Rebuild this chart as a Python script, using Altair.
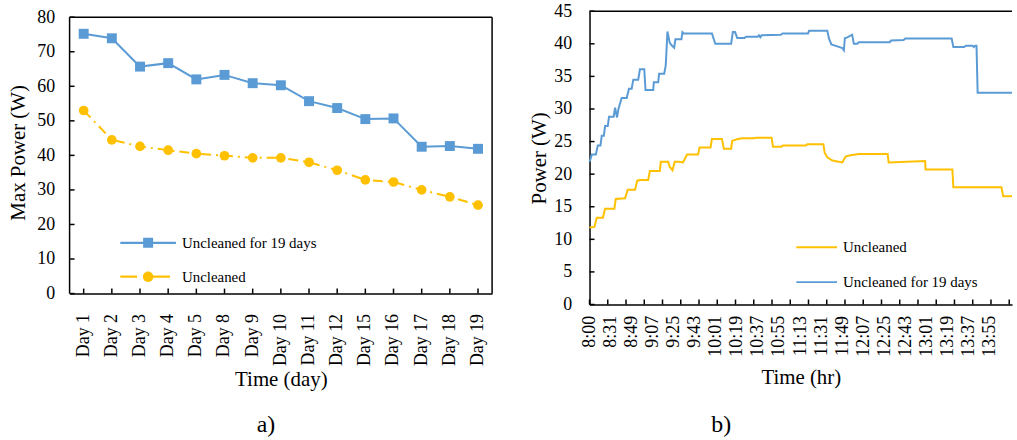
import altair as alt
import pandas as pd

FONT = "Liberation Serif"
BLUE = "#5B9BD5"
GOLD = "#FFC000"
S19 = "Uncleaned for 19 days"
SU = "Uncleaned"

# ---------------- panel a) ----------------
days = ["Day 1", "Day 2", "Day 3", "Day 4", "Day 5", "Day 8", "Day 9", "Day 10",
        "Day 11", "Day 12", "Day 15", "Day 16", "Day 17", "Day 18", "Day 19"]
max_19 = [75.2, 73.9, 65.7, 66.7, 62.0, 63.3, 60.9, 60.3, 55.7, 53.7, 50.5, 50.7, 42.5, 42.7, 41.9]
max_unc = [53.0, 44.5, 42.6, 41.5, 40.5, 39.9, 39.3, 39.3, 38.0, 35.7, 32.9, 32.3, 30.0, 28.0, 25.6]
a_yticks = [0, 10, 20, 30, 40, 50, 60, 70, 80]
a_ytop = 81.73   # scale top a few pixels above the 80 line (frame drawn at 80)

# ---------------- panel b) ----------------
time_labels = ["8:00", "8:31", "8:49", "9:07", "9:25", "9:43", "10:01", "10:19", "10:37", "10:55",
               "11:13", "11:31", "11:49", "12:07", "12:25", "12:43", "13:01", "13:19", "13:37", "13:55"]
label_step = 15
tick_step = 13
n_cat = 301
b_yticks = [0, 5, 10, 15, 20, 25, 30, 35, 40, 45]

b_k = [0.0, 0.5, 1.6, 4.5, 5.9, 7.8, 8.7, 10.2, 11.1, 13.0, 13.9, 17.2, 18.2, 19.6, 20.6, 22.9, 26.5,
       28.1, 30.0, 31.2, 34.7, 35.9, 39.0, 39.9, 45.4, 45.8, 48.9, 49.6, 53.2, 54.3, 55.5, 57.2, 58.8,
       60.3, 61.2, 65.5, 66.2, 67.1, 87.2, 89.6, 100.9, 102.1, 103.7, 105.2, 110.4, 111.5, 119.8,
       120.7, 121.7, 122.6, 136.3, 137.5, 155.7, 156.4, 169.4, 170.6, 172.3, 176.5, 180.1, 181.2,
       181.9, 183.6, 187.1, 188.3, 190.7, 191.9, 213.9, 214.8, 223.8, 224.9, 258.0, 259.2, 266.8,
       268.2, 272.9, 273.8, 274.6, 275.7, 276.5, 301.0]
b_v = [21.9, 22.2, 23.0, 23.0, 24.4, 24.4, 25.9, 25.9, 27.4, 27.4, 28.8, 28.8, 30.2, 28.7, 30.0, 31.7, 31.7,
       33.1, 33.1, 34.5, 34.5, 36.1, 36.1, 32.9, 32.9, 34.1, 34.1, 35.4, 35.4, 36.7, 41.9, 40.1, 39.7,
       39.4, 40.7, 40.7, 41.8, 41.6, 41.6, 40.0, 40.0, 41.8, 41.8, 40.9, 40.9, 41.1, 41.1,
       41.3, 41.0, 41.3, 41.4, 41.6, 41.6, 42.0, 42.0, 40.8, 39.9, 39.6, 39.35, 39.0,
       40.85, 41.0, 41.4, 40.0, 40.0, 40.25, 40.25, 40.5, 40.6, 40.8, 40.8, 39.5, 39.5,
       39.7, 39.7, 39.5, 39.7, 39.7, 32.5, 32.5]
o_k = [0.0, 3.5, 5.2, 9.5, 11.1, 17.7, 18.7, 25.3, 27.2, 32.4, 34.0, 36.0, 41.8, 43.0, 50.1, 50.8, 56.0,
       57.2, 59.1, 60.7, 63.6, 66.6, 69.5, 77.3, 78.4, 86.2, 87.2, 94.3, 95.7, 100.9, 101.6, 105.6,
       109.2, 117.4, 118.6, 129.7, 130.7, 136.8, 137.7, 154.1, 155.2, 166.6, 167.5, 169.4, 173.0,
       180.1, 182.4, 186.0, 191.9, 212.4, 213.1, 239.1, 239.4, 258.5, 259.2, 293.5, 294.7, 301.0]
o_v = [11.8, 11.9, 13.3, 13.3, 14.7, 14.7, 16.2, 16.3, 17.6, 17.6, 19.0, 19.1, 19.1, 20.5, 20.5, 21.9, 21.9,
       21.1, 20.6, 21.9, 21.9, 21.8, 23.0, 23.0, 24.1, 24.1, 25.4, 25.4, 23.9, 23.9, 25.1, 25.4,
       25.5, 25.5, 25.6, 25.6, 24.2, 24.2, 24.4, 24.4, 24.6, 24.6, 23.3, 22.6, 22.1,
       21.8, 22.7, 22.9, 23.1, 23.1, 21.8, 22.0, 20.7, 20.7, 18.0, 18.0, 16.6, 16.6]

# legend symbols (unit = 7.5 px with symbolSize 225): line + marker
SYM_19 = ("M-3.73,-0.14 L3.73,-0.14 L3.73,0.14 L-3.73,0.14 Z "
          "M-0.67,-0.67 L0.67,-0.67 L0.67,0.67 L-0.67,0.67 Z")
SYM_U = ("M-3.73,-0.14 L-1.47,-0.14 L-1.47,0.14 L-3.73,0.14 Z "
         "M0.67,-0.14 L2.93,-0.14 L2.93,0.14 L0.67,0.14 Z "
         "M0.7,0 A0.7,0.7 0 1,1 -0.7,0 A0.7,0.7 0 1,1 0.7,0 Z")
SYM_LINE = "M-2.73,0 L2.73,0"

W1, H1 = 425, 284
W2, H2 = 425, 295

dfa = pd.DataFrame({
    "day": days * 2,
    "power": max_19 + max_unc,
    "series": [S19] * len(days) + [SU] * len(days),
})

AX_XA = alt.Axis(title="Time (day)", labelAngle=270, ticks=False, domain=True,
                 labelPadding=20, titlePadding=3, labelOverlap=False)
AX_YA = alt.Axis(title="Max Power (W)", values=a_yticks, ticks=False, domain=False,
                 labelPadding=15, titlePadding=8, labelOverlap=False)
SC_YA = alt.Scale(domain=[0, a_ytop], nice=False)
xa = alt.X("day:N", sort=days, scale=alt.Scale(padding=0), axis=AX_XA)
ya = alt.Y("power:Q", scale=SC_YA, axis=AX_YA)

base_a = alt.Chart(dfa)
line19 = base_a.transform_filter(alt.datum.series == S19).mark_line(
    color=BLUE, strokeWidth=2).encode(x=xa, y=ya)
lineU = base_a.transform_filter(alt.datum.series == SU).mark_line(
    color=GOLD, strokeWidth=2, strokeDash=[10, 5, 2, 5]).encode(x=xa, y=ya)
pt19 = base_a.transform_filter(alt.datum.series == S19).mark_point(
    shape="square", filled=True, size=100, color=BLUE, opacity=1).encode(x=xa, y=ya)
ptU = base_a.transform_filter(alt.datum.series == SU).mark_point(
    shape="circle", filled=True, size=95, color=GOLD, opacity=1).encode(x=xa, y=ya)

leg_a = alt.Legend(title=None, orient="none", legendX=71.5, legendY=225.5, symbolSize=225,
                   labelFontSize=15, labelFont=FONT, labelColor="black", rowPadding=18,
                   labelOffset=26.5, padding=0, symbolStrokeWidth=0)
legend_layer = base_a.transform_filter("false").mark_point(filled=True, opacity=1).encode(
    x=xa, y=ya,
    color=alt.Color("series:N", scale=alt.Scale(domain=[S19, SU], range=[BLUE, GOLD]), legend=leg_a),
    shape=alt.Shape("series:N", scale=alt.Scale(domain=[S19, SU], range=[SYM_19, SYM_U]), legend=leg_a),
)

rule_style = dict(color="black", strokeWidth=1.5)
one = pd.DataFrame({"a": [0]})
# inside tick marks and the frame, drawn through the same scales/axes
xt_a = alt.Chart(pd.DataFrame({"day": days})).mark_rule(**rule_style).encode(
    x=xa, y=alt.YDatum(0, axis=AX_YA, scale=SC_YA), y2=alt.value(H1 - 5))
yt_a = alt.Chart(pd.DataFrame({"power": a_yticks})).mark_rule(**rule_style).encode(
    y=ya, x=alt.value(0), x2=alt.value(5))
frame_top = alt.Chart(one).mark_rule(**rule_style).encode(
    y=alt.YDatum(80, axis=AX_YA, scale=SC_YA), x=alt.value(0), x2=alt.value(W1))
frame_left = alt.Chart(one).mark_rule(**rule_style).encode(
    x=alt.value(0), y=alt.YDatum(0, axis=AX_YA, scale=SC_YA), y2=alt.datum(80))
frame_right = alt.Chart(one).mark_rule(**rule_style).encode(
    x=alt.value(W1), y=alt.YDatum(0, axis=AX_YA, scale=SC_YA), y2=alt.datum(80))

chart_a = alt.layer(line19, lineU, pt19, ptU, legend_layer, xt_a, yt_a,
                    frame_top, frame_left, frame_right).properties(
    width=W1, height=H1,
    title=alt.TitleParams("a)", orient="bottom", anchor="middle", fontSize=24, offset=24, dx=-15),
)

# ---------------- panel b) chart ----------------
dfb = pd.DataFrame({
    "k": b_k + o_k,
    "v": b_v + o_v,
    "series": [S19] * len(b_k) + [SU] * len(o_k),
    "i": list(range(len(b_k))) + list(range(len(o_k))),
})
label_vals = [i * label_step for i in range(len(time_labels))]
label_expr = "[" + ",".join("'" + t + "'" for t in time_labels) + "][round(datum.value/%d)]" % label_step

AX_XB = alt.Axis(title="Time (hr)", values=label_vals, labelExpr=label_expr, labelAngle=270,
                 ticks=False, labelPadding=11, titlePadding=10, labelFlush=False,
                 labelOverlap=False)
AX_YB = alt.Axis(title="Power (W)", values=b_yticks, ticks=False, labelPadding=18,
                 titlePadding=4, labelOverlap=False)
SC_YB = alt.Scale(domain=[0, 45], nice=False)
xb = alt.X("k:Q", scale=alt.Scale(domain=[0, n_cat], nice=False, zero=False), axis=AX_XB)
yb = alt.Y("v:Q", scale=SC_YB, axis=AX_YB)

leg_b = alt.Legend(title=None, orient="none", legendX=220, legendY=229, symbolType=SYM_LINE,
                   symbolSize=225, symbolStrokeWidth=2, labelFontSize=15, labelFont=FONT,
                   labelColor="black", rowPadding=18, labelOffset=18, padding=0)
lines_b = alt.Chart(dfb).mark_line(strokeWidth=2).encode(
    x=xb, y=yb,
    color=alt.Color("series:N", scale=alt.Scale(domain=[SU, S19], range=[GOLD, BLUE]), legend=leg_b),
    order=alt.Order("i:Q"),
)
tick_vals = [i * tick_step for i in range(n_cat // tick_step + 1)]
xt_b = alt.Chart(pd.DataFrame({"k": tick_vals})).mark_rule(**rule_style).encode(
    x=xb, y=alt.YDatum(0, axis=AX_YB, scale=SC_YB), y2=alt.value(H2 - 5))
yt_b = alt.Chart(pd.DataFrame({"v": b_yticks})).mark_rule(**rule_style).encode(
    y=yb, x=alt.value(0), x2=alt.value(5))
top_b = alt.Chart(one).mark_rule(**rule_style).encode(
    y=alt.YDatum(45, axis=AX_YB, scale=SC_YB), x=alt.value(0), x2=alt.value(W2))

chart_b = alt.layer(lines_b, xt_b, yt_b, top_b).properties(
    width=W2, height=H2,
    title=alt.TitleParams("b)", orient="bottom", anchor="middle", fontSize=24, offset=26, dx=-80),
)

chart = alt.hconcat(chart_a, chart_b, spacing=34).resolve_scale(
    color="independent", shape="independent"
).configure(
    font=FONT, padding={"left": 7, "top": 0, "right": 0, "bottom": 0}
).configure_view(stroke="transparent").configure_axis(
    labelColor="black", titleColor="black", titleFontWeight="normal", grid=False,
    domainColor="black", domainWidth=1.5, labelFontSize=18, titleFontSize=21,
    labelFont=FONT, titleFont=FONT, labelOverlap=False,
).configure_title(font=FONT, fontWeight="normal", color="black")

chart.save("out.html", embed_options={"renderer": "svg", "actions": False})
